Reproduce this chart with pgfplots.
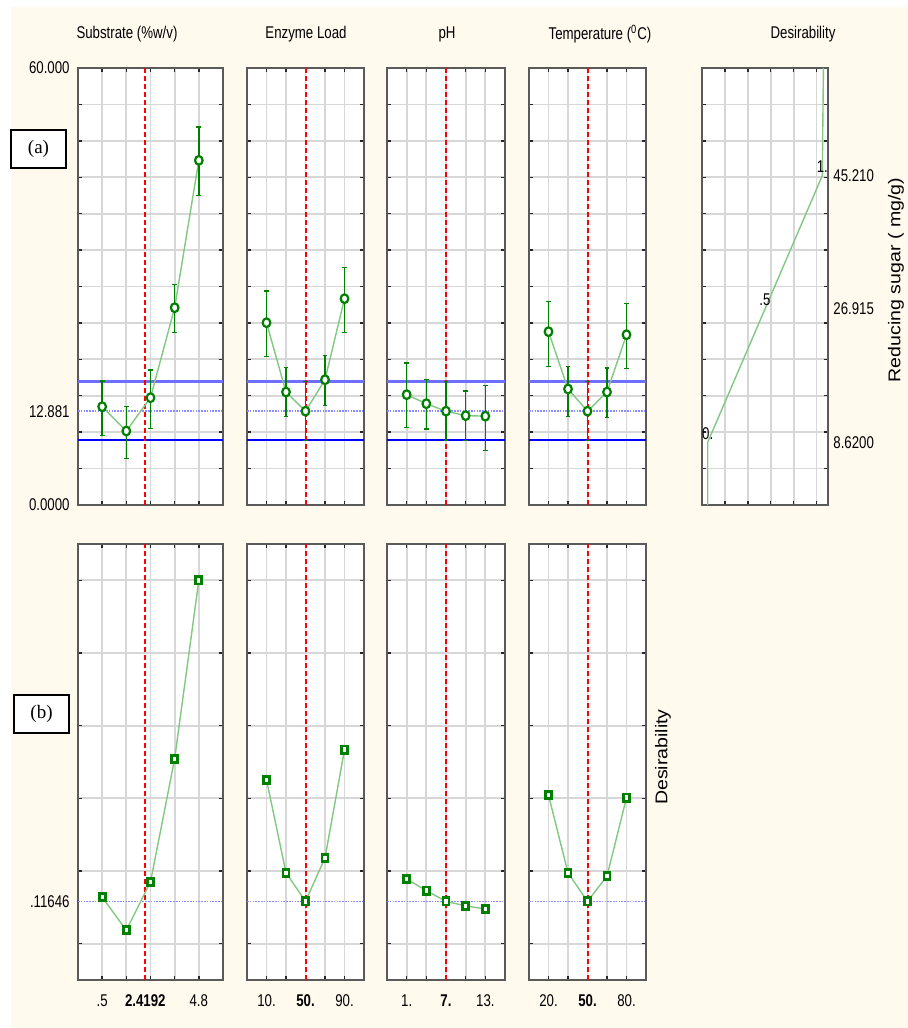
\documentclass[border=0pt]{standalone}
\usepackage{fontspec}
\setmainfont{Liberation Sans}[FakeStretch=0.78]
\newfontfamily\vfont{Liberation Sans}[FakeStretch=1.15]
\newfontfamily\boxfont{Liberation Serif}
\usepackage{pgfplots}
\pgfplotsset{compat=1.18}
\definecolor{cream}{RGB}{255,249,238}
\definecolor{axgray}{RGB}{90,90,90}
\definecolor{gridgray}{RGB}{215,215,215}
\definecolor{dkgreen}{RGB}{0,128,0}
\definecolor{ltgreen}{RGB}{130,200,130}
\definecolor{ltblue}{RGB}{110,110,255}
\definecolor{dotblue}{RGB}{140,140,255}
\definecolor{refred}{RGB}{255,0,0}
\pgfplotsset{
 prof/.style={
  scale only axis, anchor=south west,
  axis line style={draw=axgray, line width=1pt},
  xmajorgrids=true, ymajorgrids=true,
  major grid style={draw=gridgray, line width=0.9pt},
  tick style={draw=black!85, line width=0.7pt},
  major tick length=1.8pt,
  tick align=inside,
  xticklabels={}, yticklabels={},
 },
 toprow/.style={ymin=0,ymax=60, ytick={0,5,...,60}, height=218.5pt},
 botrow/.style={ymin=-0.1,ymax=1.1, ytick={0,0.2,0.4,0.6,0.8,1}, height=218pt},
 resp/.style={ltgreen, line width=0.7pt, mark=*, mark size=1.9pt,
   mark options={draw=dkgreen, fill=white, line width=1.1pt, yscale=1.15},
   error bars/.cd, y dir=both, y explicit,
   error bar style={dkgreen, line width=0.8pt},
   error mark options={rotate=90, mark size=1.2pt, dkgreen, line width=0.7pt}},
 des/.style={ltgreen, line width=0.7pt, mark=square*, mark size=1.5pt,
   mark options={draw=dkgreen, fill=white, line width=1.4pt, yscale=1.2}},
 redline/.style={refred, dash pattern=on 2.5pt off 1.5pt, line width=1pt},
 blueup/.style={ltblue, line width=1.2pt},
 bluelo/.style={blue, line width=0.9pt},
 bluedot/.style={dotblue, dash pattern=on 0.8pt off 0.6pt, line width=0.8pt},
}
\tikzset{
 ylab/.style={anchor=east, inner sep=0pt},
 rlab/.style={anchor=west, inner sep=0pt},
 xlab/.style={anchor=north, inner sep=0pt},
}
\begin{document}
\fontsize{8.5pt}{10pt}\selectfont
\begin{tikzpicture}
\fill[white] (0pt,0pt) rectangle (454pt,-514pt);
\fill[cream] (5.5pt,-3.5pt) rectangle (454pt,-514pt);
\useasboundingbox (0pt,0pt) rectangle (454pt,-514pt);
% white panel backgrounds
\fill[white] (39pt,-34pt) rectangle (111.5pt,-252.5pt);
\fill[white] (123.5pt,-34pt) rectangle (182pt,-252.5pt);
\fill[white] (193.5pt,-34pt) rectangle (252.5pt,-252.5pt);
\fill[white] (264.5pt,-34pt) rectangle (323pt,-252.5pt);
\fill[white] (351pt,-34pt) rectangle (414pt,-252.5pt);
\fill[white] (39pt,-272pt) rectangle (111.5pt,-490pt);
\fill[white] (123.5pt,-272pt) rectangle (182pt,-490pt);
\fill[white] (193.5pt,-272pt) rectangle (252.5pt,-490pt);
\fill[white] (264.5pt,-272pt) rectangle (323pt,-490pt);

% titles
\node at (63.5pt,-17pt) {Substrate (\%w/v)};
\node at (153pt,-17pt) {Enzyme Load};
\node at (223.5pt,-17pt) {pH};
\node at (300pt,-17pt) {Temperature (\textsuperscript{0}C)};
\node at (401.5pt,-17pt) {Desirability};

% ===== top row =====
\begin{axis}[prof, toprow, at={(39pt,-252.5pt)}, width=72.5pt,
  xmin=-0.575, xmax=5.875, xtick={0.5,1.575,2.65,3.725,4.8}]
\addplot[blueup] coordinates {(-0.575,16.93) (5.875,16.93)};
\addplot[bluelo] coordinates {(-0.575,8.88) (5.875,8.88)};
\addplot[bluedot] coordinates {(-0.575,12.881) (5.875,12.881)};
\addplot[redline] coordinates {(2.4192,0) (2.4192,60)};
\addplot[resp] coordinates {
 (0.5,13.50) += (0,3.53) -= (0,3.93)
 (1.575,10.16) += (0,3.39) -= (0,3.75)
 (2.65,14.73) += (0,3.81) -= (0,4.20)
 (3.725,27.09) += (0,3.16) -= (0,3.38)
 (4.8,47.32) += (0,4.58) -= (0,4.80)
};
\end{axis}

\begin{axis}[prof, toprow, at={(123.5pt,-252.5pt)}, width=58.5pt,
  xmin=-10, xmax=110, xtick={10,30,50,70,90}]
\addplot[blueup] coordinates {(-10,16.93) (110,16.93)};
\addplot[bluelo] coordinates {(-10,8.88) (110,8.88)};
\addplot[bluedot] coordinates {(-10,12.881) (110,12.881)};
\addplot[redline] coordinates {(50,0) (50,60)};
\addplot[resp] coordinates {
 (10,25.03) += (0,4.35) -= (0,4.62)
 (30,15.51) += (0,3.39) -= (0,3.38)
 (50,12.881) += (0,4.05) -= (0,4.00)
 (70,17.20) += (0,3.30) -= (0,3.51)
 (90,28.33) += (0,4.25) -= (0,4.67)
};
\end{axis}

\begin{axis}[prof, toprow, at={(193.5pt,-252.5pt)}, width=59pt,
  xmin=-2, xmax=16, xtick={1,4,7,10,13}]
\addplot[blueup] coordinates {(-2,16.93) (16,16.93)};
\addplot[bluelo] coordinates {(-2,8.88) (16,8.88)};
\addplot[bluedot] coordinates {(-2,12.881) (16,12.881)};
\addplot[redline] coordinates {(7,0) (7,60)};
\addplot[resp] coordinates {
 (1,15.15) += (0,4.35) -= (0,4.53)
 (4,13.91) += (0,3.35) -= (0,3.48)
 (7,12.881) += (0,4.05) -= (0,4.00)
 (10,12.27) += (0,3.38) -= (0,3.44)
 (13,12.20) += (0,4.18) -= (0,4.74)
};
\end{axis}

\begin{axis}[prof, toprow, at={(264.5pt,-252.5pt)}, width=58.5pt,
  xmin=5, xmax=95, xtick={20,35,50,65,80}]
\addplot[blueup] coordinates {(5,16.93) (95,16.93)};
\addplot[bluelo] coordinates {(5,8.88) (95,8.88)};
\addplot[bluedot] coordinates {(5,12.881) (95,12.881)};
\addplot[redline] coordinates {(50,0) (50,60)};
\addplot[resp] coordinates {
 (20,23.80) += (0,4.11) -= (0,4.76)
 (35,15.93) += (0,3.06) -= (0,3.76)
 (50,12.881) += (0,4.05) -= (0,4.00)
 (65,15.51) += (0,3.30) -= (0,3.47)
 (80,23.38) += (0,4.26) -= (0,4.67)
};
\end{axis}

\begin{axis}[prof, toprow, at={(351pt,-252.5pt)}, width=63pt,
  xmin=-0.05, xmax=1.05, xtick={0.15,0.35,0.55,0.75,0.95}]
\addplot[ltgreen, line width=0.7pt] coordinates {(0,0) (0,8.62) (1,45.21) (1.01,60)};
\node[anchor=south, inner sep=1pt] at (axis cs:0,8.62) {0.};
\node[anchor=south, inner sep=1.5pt] at (axis cs:0.5,26.915) {.5};
\node[anchor=south, inner sep=1.5pt] at (axis cs:1,45.21) {1.};
\end{axis}

% ===== bottom row =====
\begin{axis}[prof, botrow, at={(39pt,-490pt)}, width=72.5pt,
  xmin=-0.575, xmax=5.875, xtick={0.5,1.575,2.65,3.725,4.8}]
\addplot[bluedot] coordinates {(-0.575,0.11646) (5.875,0.11646)};
\addplot[redline] coordinates {(2.4192,-0.1) (2.4192,1.1)};
\addplot[des] coordinates {(0.5,0.128) (1.575,0.037) (2.65,0.170) (3.725,0.509) (4.8,1.0)};
\end{axis}

\begin{axis}[prof, botrow, at={(123.5pt,-490pt)}, width=58.5pt,
  xmin=-10, xmax=110, xtick={10,30,50,70,90}]
\addplot[bluedot] coordinates {(-10,0.11646) (110,0.11646)};
\addplot[redline] coordinates {(50,-0.1) (50,1.1)};
\addplot[des] coordinates {(10,0.451) (30,0.195) (50,0.11646) (70,0.236) (90,0.534)};
\end{axis}

\begin{axis}[prof, botrow, at={(193.5pt,-490pt)}, width=59pt,
  xmin=-2, xmax=16, xtick={1,4,7,10,13}]
\addplot[bluedot] coordinates {(-2,0.11646) (16,0.11646)};
\addplot[redline] coordinates {(7,-0.1) (7,1.1)};
\addplot[des] coordinates {(1,0.178) (4,0.146) (7,0.11646) (10,0.104) (13,0.0954)};
\end{axis}

\begin{axis}[prof, botrow, at={(264.5pt,-490pt)}, width=58.5pt,
  xmin=5, xmax=95, xtick={20,35,50,65,80}]
\addplot[bluedot] coordinates {(5,0.11646) (95,0.11646)};
\addplot[redline] coordinates {(50,-0.1) (50,1.1)};
\addplot[des] coordinates {(20,0.409) (35,0.195) (50,0.11646) (65,0.186) (80,0.402)};
\end{axis}

% axis tick labels (placed at the axes' value positions)
\node[ylab] at (35pt,-34pt) {60.000};
\node[ylab] at (35pt,-205.59pt) {12.881};
\node[ylab] at (35pt,-252.5pt) {0.0000};
\node[ylab] at (35pt,-450.68pt) {.11646};
\node[rlab] at (416.5pt,-87.86pt) {45.210};
\node[rlab] at (416.5pt,-154.48pt) {26.915};
\node[rlab] at (416.5pt,-221.11pt) {8.6200};
\node[xlab] at (51.08pt,-497pt) {.5};
\node[xlab] at (72.66pt,-497pt) {\textbf{2.4192}};
\node[xlab] at (99.42pt,-497pt) {4.8};
\node[xlab] at (133.25pt,-497pt) {10.};
\node[xlab] at (152.75pt,-497pt) {\textbf{50.}};
\node[xlab] at (172.25pt,-497pt) {90.};
\node[xlab] at (203.33pt,-497pt) {1.};
\node[xlab] at (223pt,-497pt) {\textbf{7.}};
\node[xlab] at (242.67pt,-497pt) {13.};
\node[xlab] at (274.25pt,-497pt) {20.};
\node[xlab] at (293.75pt,-497pt) {\textbf{50.}};
\node[xlab] at (313.25pt,-497pt) {80.};

% side labels
\node[rotate=90, font=\vfont] at (448pt,-140pt) {Reducing sugar ( mg/g)};
\node[rotate=90, font=\vfont] at (331.5pt,-378.5pt) {Desirability};

% boxes
\draw[black, line width=0.6pt, fill=white] (5.5pt,-65pt) rectangle (33pt,-84pt);
\node[font=\boxfont\fontsize{9.5pt}{11pt}\selectfont] at (19.25pt,-74.5pt) {(a)};
\draw[black, line width=0.6pt, fill=white] (7pt,-347.5pt) rectangle (34.5pt,-366.5pt);
\node[font=\boxfont\fontsize{9.5pt}{11pt}\selectfont] at (20.75pt,-357pt) {(b)};
\end{tikzpicture}
\end{document}
